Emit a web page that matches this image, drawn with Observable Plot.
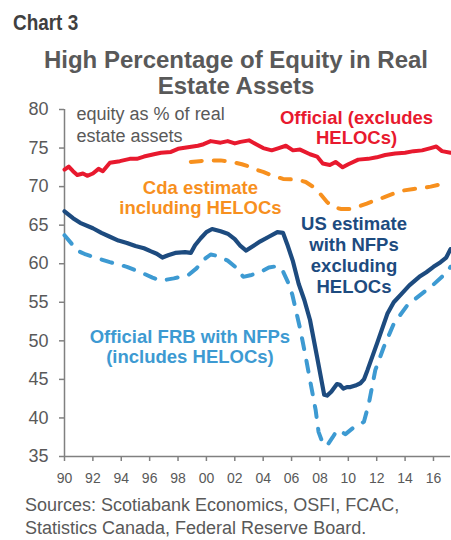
<!DOCTYPE html>
<html>
<head>
<meta charset="utf-8">
<script src="https://cdn.jsdelivr.net/npm/d3@7"></script>
<script src="https://cdn.jsdelivr.net/npm/@observablehq/plot@0.6"></script>
<style>
  html, body { margin: 0; padding: 0; background: #fff; width: 451px; height: 540px; overflow: hidden; }
  body { position: relative; font-family: "Liberation Sans", Arial, sans-serif; }
  #kicker { position: absolute; left: 13px; top: 12px; font: bold 22px/22px "Liberation Sans Narrow", "Arial Narrow", "Liberation Sans", sans-serif; color: #404040; white-space: nowrap; transform: scaleX(0.86); transform-origin: left top; }
  #title { position: absolute; left: 0; width: 472px; top: 47px; text-align: center; font: bold 24px/26px "Liberation Sans", Arial, sans-serif; color: #595959; }
  #chart { position: absolute; left: 0; top: 95px; }
  #source { position: absolute; left: 25px; top: 494px; font: 18px/23px "Liberation Sans", Arial, sans-serif; color: #595959; white-space: nowrap; }
</style>
</head>
<body>
<div id="kicker">Chart 3</div>
<div id="title">High Percentage of Equity in Real<br>Estate Assets</div>
<div id="chart"></div>
<div id="source">Sources: Scotiabank Economics, OSFI, FCAC,<br>Statistics Canada, Federal Reserve Board.</div>
<script>
// ---- Data ----
const officialYears = [1990.0, 1990.3, 1990.6, 1990.9, 1991.3, 1991.6, 1992.0, 1992.4, 1992.7, 1993.2, 1993.9, 1994.6, 1995.1, 1995.6, 1996.3, 1996.8, 1997.5, 1998.0, 1998.7, 1999.4, 1999.8, 2000.3, 2001.0, 2001.5, 2002.0, 2002.4, 2003.0, 2003.5, 2004.0, 2004.6, 2005.1, 2005.6, 2006.1, 2006.6, 2007.3, 2007.8, 2008.2, 2008.7, 2009.1, 2009.6, 2010.0, 2010.7, 2011.4, 2012.0, 2012.6, 2013.3, 2014.0, 2014.6, 2015.2, 2015.8, 2016.2, 2016.6, 2017.2];
const officialValues = [72.2, 72.6, 72.0, 71.5, 71.7, 71.4, 71.7, 72.3, 72.0, 73.1, 73.3, 73.6, 73.6, 73.9, 74.2, 74.4, 74.5, 74.9, 75.1, 75.3, 75.5, 75.9, 75.7, 75.9, 75.6, 75.8, 76.0, 75.5, 75.0, 74.7, 75.0, 75.3, 74.7, 74.8, 74.2, 73.9, 73.0, 72.8, 73.2, 72.5, 72.9, 73.5, 73.6, 73.8, 74.1, 74.3, 74.4, 74.6, 74.7, 75.0, 75.2, 74.6, 74.4];

const cdaYears = [1998.9, 1999.5, 2000.3, 2001.0, 2001.8, 2002.5, 2003.0, 2003.5, 2004.0, 2004.7, 2005.4, 2006.4, 2007.0, 2007.5, 2008.0, 2008.5, 2009.0, 2009.5, 2010.1, 2010.7, 2011.3, 2012.0, 2012.5, 2013.2, 2013.9, 2014.6, 2015.2, 2015.8, 2016.5];
const cdaValues = [73.2, 73.3, 73.4, 73.4, 73.2, 72.9, 72.6, 72.2, 71.9, 71.4, 71.0, 70.9, 70.6, 70.0, 69.1, 68.0, 67.3, 67.1, 67.1, 67.4, 67.8, 68.3, 68.6, 69.1, 69.5, 69.7, 69.8, 70.0, 70.3];

const usYears = [1990.0, 1990.6, 1991.1, 1992.0, 1992.6, 1993.2, 1993.8, 1994.4, 1995.0, 1995.6, 1996.1, 1996.5, 1996.9, 1997.3, 1997.8, 1998.5, 1998.9, 1999.2, 1999.6, 2000.0, 2000.4, 2001.0, 2001.5, 2002.0, 2002.4, 2002.8, 2003.3, 2003.8, 2004.4, 2005.0, 2005.4, 2005.7, 2006.1, 2006.5, 2006.9, 2007.3, 2007.8, 2008.3, 2008.5, 2008.8, 2009.2, 2009.4, 2009.65, 2009.9, 2010.15, 2010.5, 2010.85, 2011.1, 2011.35, 2012.05, 2012.75, 2013.2, 2013.7, 2014.3, 2015.0, 2015.5, 2016.0, 2016.5, 2016.9, 2017.2];
const usValues = [66.8, 65.9, 65.3, 64.6, 64.0, 63.5, 63.0, 62.7, 62.3, 62.0, 61.6, 61.3, 60.8, 61.1, 61.4, 61.5, 61.4, 62.4, 63.3, 64.1, 64.5, 64.2, 63.9, 63.2, 62.3, 61.7, 62.3, 62.9, 63.5, 64.1, 64.0, 62.5, 60.3, 57.4, 55.3, 52.7, 47.9, 43.0, 42.9, 43.4, 44.4, 44.3, 43.8, 44.0, 44.0, 44.2, 44.5, 45.0, 46.2, 49.8, 53.5, 55.0, 56.0, 57.2, 58.3, 58.9, 59.6, 60.2, 60.8, 61.9];

const frbYears = [1990.0, 1990.5, 1990.9, 1991.5, 1992.0, 1993.2, 1994.4, 1995.6, 1996.2, 1996.8, 1997.7, 1998.7, 1999.3, 1999.8, 2000.3, 2000.8, 2001.5, 2002.1, 2002.6, 2003.1, 2003.8, 2004.4, 2005.0, 2005.4, 2005.8, 2006.05, 2006.6, 2007.0, 2007.3, 2007.7, 2007.9, 2008.2, 2008.5, 2008.9, 2009.2, 2009.5, 2009.8, 2010.4, 2011.1, 2011.45, 2011.9, 2012.5, 2013.2, 2014.15, 2015.1, 2016.0, 2017.0, 2017.2];
const frbValues = [63.7, 62.6, 61.7, 61.2, 60.9, 60.2, 59.6, 58.7, 58.2, 57.8, 58.1, 58.5, 59.4, 60.5, 61.2, 61.0, 60.4, 59.5, 58.3, 58.5, 58.9, 59.5, 59.7, 59.0, 57.4, 56.0, 51.6, 47.9, 44.9, 41.0, 38.2, 36.7, 36.4, 37.5, 38.4, 38.2, 37.9, 38.8, 39.5, 41.9, 46.2, 49.2, 52.2, 54.6, 56.0, 57.3, 59.0, 59.6];

const xTickYears = d3.range(1990, 2017, 2);
const yTickValues = d3.range(35, 81, 5);

// ---- Tables built from the arrays ----
const toRows = (ys, vs) => ys.map((y, i) => ({year: y, value: vs[i]}));
const official = toRows(officialYears, officialValues);
const cda = toRows(cdaYears, cdaValues);
const us = toRows(usYears, usValues);
const frb = toRows(frbYears, frbValues);

const RED = "#E8192E", ORANGE = "#F7901E", NAVY = "#1D4B7F", SKY = "#3D9AD2";
const GRAY_TEXT = "#595959", GRAY_LINE = "#808080";

const chart = Plot.plot({
  width: 451,
  height: 395,
  marginTop: 14,
  marginBottom: 34,
  marginLeft: 64,
  marginRight: 1,
  style: {fontFamily: "'Liberation Sans', Arial, sans-serif", background: "transparent", color: GRAY_TEXT},
  x: {domain: [1990, 2017.2], axis: null, label: null},
  y: {domain: [35, 80], axis: null, label: null},
  marks: [
    Plot.ruleY([35], {stroke: GRAY_LINE, strokeWidth: 1.5}),
    Plot.ruleX([1990], {y1: 35, y2: 80, stroke: GRAY_LINE, strokeWidth: 1.5}),
    Plot.axisX({ticks: xTickYears, tickFormat: d => String(d % 100).padStart(2, "0"), tickSize: 5, tickPadding: 12, fontSize: 14, stroke: GRAY_LINE, strokeWidth: 1.5, fill: GRAY_TEXT, label: null}),
    Plot.axisY({ticks: yTickValues, tickSize: 5, tickPadding: 11, fontSize: 18, stroke: GRAY_LINE, strokeWidth: 1.5, fill: GRAY_TEXT, label: null}),
    Plot.line(frb, {x: "year", y: "value", stroke: SKY, strokeWidth: 4, strokeDasharray: "11,12", strokeLinecap: "round", strokeLinejoin: "round"}),
    Plot.line(cda, {x: "year", y: "value", stroke: ORANGE, strokeWidth: 4, strokeDasharray: "11,12", strokeLinecap: "round", strokeLinejoin: "round"}),
    Plot.line(us, {x: "year", y: "value", stroke: NAVY, strokeWidth: 4.2, strokeLinejoin: "round", strokeLinecap: "round"}),
    Plot.line(official, {x: "year", y: "value", stroke: RED, strokeWidth: 4, strokeLinejoin: "round", strokeLinecap: "round"}),
    // annotations
    Plot.text(["equity as % of real\nestate assets"], {x: 1990.85, y: 75.85, text: d => d, textAnchor: "start", lineAnchor: "bottom", lineHeight: 1.2, fontSize: 18, fill: GRAY_TEXT}),
    Plot.text(["Official (excludes\nHELOCs)"], {x: 2010.58, y: 75.47, text: d => d, textAnchor: "middle", lineAnchor: "bottom", lineHeight: 1.08, fontSize: 18.5, fontWeight: "bold", fill: RED}),
    Plot.text(["Cda estimate\nincluding HELOCs"], {x: 1999.58, y: 66.40, text: d => d, textAnchor: "middle", lineAnchor: "bottom", lineHeight: 1.08, fontSize: 18.5, fontWeight: "bold", fill: ORANGE}),
    Plot.text(["US estimate\nwith NFPs\nexcluding\nHELOCs"], {x: 2010.40, y: 56.17, text: d => d, textAnchor: "middle", lineAnchor: "bottom", lineHeight: 1.135, fontSize: 18.5, fontWeight: "bold", fill: NAVY}),
    Plot.text(["Official FRB with NFPs\n(includes HELOCs)"], {x: 1998.84, y: 47.10, text: d => d, textAnchor: "middle", lineAnchor: "bottom", lineHeight: 1.08, fontSize: 18.5, fontWeight: "bold", fill: SKY})
  ]
});
document.getElementById("chart").appendChild(chart);
</script>
</body>
</html>
